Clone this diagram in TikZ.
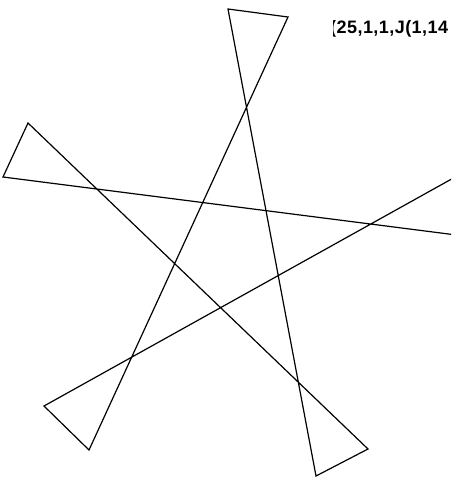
\documentclass[tikz,border=0pt]{standalone}
\usepackage{fontspec}
\setmainfont{Liberation Sans}
\begin{document}
\begin{tikzpicture}[x=1pt,y=-1pt,
  starline/.style={draw=black,line width=1.2pt,line join=miter},
  labeltext/.style={font=\bfseries\fontsize{18}{20}\selectfont\addfontfeature{LetterSpace=2.5},inner sep=0pt,anchor=base west}]
\useasboundingbox (0,0) rectangle (451,479);
\coordinate (t1) at (228,9);
\coordinate (t2) at (288,17);
\coordinate (b1) at (89,450);
\coordinate (b2) at (44,406);
\coordinate (r1) at (457,176);
\coordinate (r2) at (472,237);
\coordinate (l1) at (3,177);
\coordinate (l2) at (28,123);
\coordinate (c1) at (368,449);
\coordinate (c2) at (316,476);
\begin{scope}
\clip (0,0) rectangle (451,479);
\draw[starline] (t1) -- (t2) -- (b1) -- (b2) -- (r1) -- (r2) -- (l1) -- (l2) -- (c1) -- (c2) -- cycle;
\end{scope}
\begin{scope}
\clip (333.5,0) rectangle (451,479);
\node[labeltext] (lbl) at (330,33.3) {(25,1,1,J(1,14};
\end{scope}
\end{tikzpicture}
\end{document}
